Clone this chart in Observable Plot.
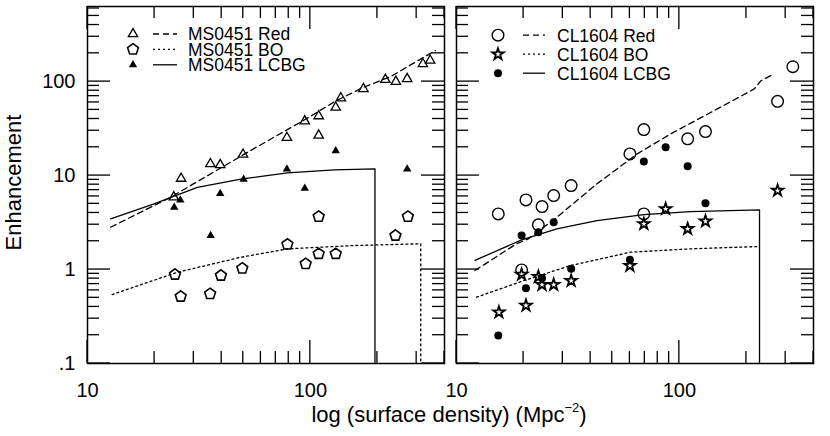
<!DOCTYPE html>
<html>
<head>
<meta charset="utf-8">
<script src="https://cdn.jsdelivr.net/npm/d3@7"></script>
<script src="https://cdn.jsdelivr.net/npm/@observablehq/plot@0.6"></script>
<style>
  body { margin: 0; background: #fff; }
  #chart { position: relative; width: 830px; height: 436px; background: #fff;
           font-family: "Liberation Sans", Arial, Helvetica, sans-serif; color: #000; }
  #chart svg { position: absolute; top: 0; overflow: visible; }
  #xtitle { position: absolute; top: 404px; left: 449px; transform: translateX(-50%);
            font-size: 22px; line-height: 22px; white-space: nowrap; }
  #xtitle sup { font-size: 13px; vertical-align: baseline; position: relative; top: -0.75em; }
</style>
</head>
<body>
<div id="chart"><div id="xtitle">log (surface density) (Mpc<sup>−2</sup>)</div></div>
<script>
// ---------- axis ticks ----------
const xTicksMajor = [10, 100];
const xTickLabels = ["10", "100"];
const xTicksMinor = [20, 30, 40, 50, 60, 70, 80, 90, 200, 300, 400];
const yTicksMajor = [0.1, 1, 10, 100];
const yTickLabels = [".1", "1", "10", "100"];
const yTicksMinor = [0.2, 0.3, 0.4, 0.5, 0.6, 0.7, 0.8, 0.9,
                     2, 3, 4, 5, 6, 7, 8, 9,
                     20, 30, 40, 50, 60, 70, 80, 90,
                     200, 300, 400, 500, 600];

// ---------- MS0451 (left panel) ----------
const msRedX = [24.4, 26.3, 35.6, 39.4, 49.9, 78.5, 94.4, 109, 109, 130, 137, 173, 217, 242, 272, 320, 345];
const msRedY = [5.9, 9.3, 13.3, 13.0, 16.8, 25.3, 38, 43, 26.8, 53.1, 66.8, 83.8, 105, 100, 107, 154, 168];
const msBoX = [24.7, 26.2, 35.5, 39.7, 49.5, 78.9, 95.3, 109, 130, 109, 241, 274];
const msBoY = [0.885, 0.516, 0.551, 0.864, 1.03, 1.85, 1.15, 1.47, 1.47, 3.66, 2.30, 3.66];
const msLcbgX = [24.5, 26.1, 35.7, 39.4, 50.2, 78.5, 94.4, 130, 272];
const msLcbgY = [4.6, 5.5, 2.3, 6.45, 9.1, 11.7, 7.3, 18.3, 11.7];

const msRedLineX = [12.7, 23.6, 53.8, 93, 131, 173, 229, 300, 364];
const msRedLineY = [2.82, 5.88, 18.4, 38.5, 62.8, 86.9, 113, 164, 214];
const msBoLineX = [12.9, 25.3, 48.7, 78.9, 157, 313, 313];
const msBoLineY = [0.542, 0.935, 1.35, 1.66, 1.80, 1.88, 0.1];
const msLcbgLineX = [12.7, 19.9, 31.1, 49.5, 78.9, 128, 195, 195];
const msLcbgLineY = [3.46, 5.0, 7.5, 9.22, 10.7, 11.5, 11.8, 0.1];

// ---------- CL1604 (right panel) ----------
const clRedX = [15.4, 20.5, 24.2, 27.3, 32.7, 23.3, 60, 69.3, 69.3, 109, 131, 276, 323, 19.6];
const clRedY = [3.91, 5.51, 4.68, 6.13, 7.83, 2.99, 17.0, 30.9, 3.91, 24.6, 29.4, 61.7, 144, 0.99];
const clBoX = [86.8, 69.3, 109, 131, 276, 15.5, 20.5, 19.6, 23.3, 24.2, 27.3, 32.7, 60];
const clBoY = [4.42, 3.06, 2.71, 3.27, 6.92, 0.351, 0.414, 0.885, 0.84, 0.69, 0.69, 0.76, 1.10];
const clLcbgX = [19.6, 23.3, 27.3, 69.3, 86.8, 109, 131, 20.5, 15.4, 32.7, 24.2, 60];
const clLcbgY = [2.30, 2.49, 3.19, 14.1, 20.0, 12.6, 5.07, 0.633, 0.199, 1.02, 0.81, 1.27];

const clRedLineX = [12.1, 18.6, 21, 28.2, 42.7, 64.7, 91.5, 148, 217, 232, 267];
const clRedLineY = [0.976, 1.88, 2.12, 3.6, 8.17, 17.0, 27.8, 51.2, 83.6, 102, 121];
const clBoLineX = [12.3, 20, 32.4, 60.4, 112, 229];
const clBoLineY = [0.508, 0.76, 1.10, 1.53, 1.66, 1.76];
const clLcbgLineX = [12.1, 19.6, 28.2, 42.7, 69.3, 112, 229, 229];
const clLcbgLineY = [1.25, 2.07, 2.71, 3.32, 3.85, 4.14, 4.32, 0.1];

// ---------- helpers ----------
const FONT = '"Liberation Sans", Arial, Helvetica, sans-serif';
const PANEL = 357;   // inner size (px) of each square panel
const MT = 6;        // top margin of each panel
const X_DOMAIN = [10, 400], Y_DOMAIN = [0.1, 630];
const pts = (xs, ys) => xs.map((x, i) => ({x, y: ys[i]}));
const pentagon = {
  draw(ctx, size) {
    const R = Math.sqrt(size / 2.3776);
    for (let i = 0; i < 5; i++) {
      const a = -Math.PI / 2 + i * 2 * Math.PI / 5;
      const px = R * Math.cos(a), py = R * Math.sin(a);
      if (i) ctx.lineTo(px, py); else ctx.moveTo(px, py);
    }
    ctx.closePath();
  }
};

const ST = {
  tri:   {symbol: "triangle", r: 3.5, fill: "none", stroke: "black", strokeWidth: 1.3},
  pent:  {symbol: pentagon, r: 4.95, fill: "none", stroke: "black", strokeWidth: 1.6},
  ftri:  {symbol: "triangle", r: 3.1, fill: "black", stroke: "none", strokeWidth: 0},
  circ:  {symbol: "circle", r: 5.8, fill: "none", stroke: "black", strokeWidth: 1.4},
  star:  {symbol: "star", r: 3.6, fill: "none", stroke: "black", strokeWidth: 1.8},
  fcirc: {symbol: "circle", r: 4, fill: "black", stroke: "none", strokeWidth: 0}
};
const LINE = {
  dash: {strokeDasharray: "6,4"},
  dot:  {strokeDasharray: "2,3"},
  solid:{strokeDasharray: null}
};
const symType = s => s === "triangle" ? d3.symbolTriangle : s === "circle" ? d3.symbolCircle : s === "star" ? d3.symbolStar : s;

function labelMarks(showYLabels) {
  const m = [
    Plot.axisX(xTicksMajor, {anchor: "bottom", tickSize: 0, tickPadding: 19, label: null,
      fontSize: 20, tickFormat: d => xTickLabels[xTicksMajor.indexOf(d)]})
  ];
  if (showYLabels) m.push(Plot.axisY(yTicksMajor, {anchor: "left", tickSize: 0, tickPadding: 12, label: null,
      fontSize: 20, tickFormat: d => yTickLabels[yTicksMajor.indexOf(d)]}));
  m.push(Plot.frame({stroke: "black", strokeWidth: 1.5}));
  return m;
}

function seriesMarks(series) {
  const out = [];
  for (const s of series) {
    out.push(Plot.line(pts(s.lx, s.ly), {x: "x", y: "y", stroke: "black", strokeWidth: 1.3, ...LINE[s.line]}));
  }
  for (const s of series) {
    out.push(Plot.dot(pts(s.px, s.py), {x: "x", y: "y", ...ST[s.sym]}));
  }
  return out;
}

// inward ticks drawn as thin filled bars, positioned through the plot's own scales
function drawTicks(svg) {
  const sx = svg.scale("x"), sy = svg.scale("y");
  const x0 = sx.range[0], x1 = sx.range[1], y1 = sy.range[0], y0 = sy.range[1];
  const W = 1.3;
  const g = d3.select(svg).append("g").attr("fill", "black");
  const bar = (x, y, w, h) => g.append("rect").attr("x", x).attr("y", y).attr("width", w).attr("height", h).attr("fill", "black");
  [[xTicksMinor, 12], [xTicksMajor, 23]].forEach(([ticks, L]) => ticks.forEach(t => {
    const px = sx.apply(t);
    bar(px - W / 2, y1 - L, W, L);
    bar(px - W / 2, y0, W, L);
  }));
  [[yTicksMinor, 12], [yTicksMajor, 23]].forEach(([ticks, L]) => ticks.forEach(t => {
    const py = sy.apply(t);
    bar(x0, py - W / 2, L, W);
    bar(x1 - L, py - W / 2, L, W);
  }));
}

function panel({ml, mr, left, series, showYLabels}) {
  const svg = Plot.plot({
    width: ml + PANEL + mr, height: 436, marginTop: MT, marginBottom: 436 - MT - PANEL,
    marginLeft: ml, marginRight: mr,
    x: {type: "log", domain: X_DOMAIN},
    y: {type: "log", domain: Y_DOMAIN, ...(showYLabels ? {} : {axis: null})},
    style: {background: "transparent", color: "black", fontFamily: FONT, fontSize: "20px", overflow: "visible"},
    marks: [...seriesMarks(series), ...labelMarks(showYLabels)]
  });
  svg.style.left = left + "px";
  return svg;
}

function legend(svg, series, {sx, lx1, lx2, tx, y0, dy}) {
  const g = d3.select(svg).append("g").attr("text-anchor", "start");
  series.forEach((s, i) => {
    const y = y0 + i * dy, st = ST[s.sym];
    g.append("path")
      .attr("transform", `translate(${sx},${y})`)
      .attr("d", d3.symbol(symType(st.symbol), Math.PI * st.r * st.r)())
      .attr("fill", st.fill).attr("stroke", st.stroke).attr("stroke-width", st.strokeWidth);
    g.append("line").attr("x1", lx1).attr("x2", lx2).attr("y1", y).attr("y2", y)
      .attr("stroke", "black").attr("stroke-width", 1.3)
      .attr("stroke-dasharray", LINE[s.line].strokeDasharray);
    g.append("text").attr("x", tx).attr("y", y).attr("dy", "0.36em")
      .attr("text-anchor", "start")
      .attr("font-family", FONT).attr("font-size", 17.5).attr("fill", "black").text(s.name);
  });
}

const msSeries = [
  {name: "MS0451 Red",  sym: "tri",  line: "dash",  px: msRedX,  py: msRedY,  lx: msRedLineX,  ly: msRedLineY},
  {name: "MS0451 BO",   sym: "pent", line: "dot",   px: msBoX,   py: msBoY,   lx: msBoLineX,   ly: msBoLineY},
  {name: "MS0451 LCBG", sym: "ftri", line: "solid", px: msLcbgX, py: msLcbgY, lx: msLcbgLineX, ly: msLcbgLineY}
];
const clSeries = [
  {name: "CL1604 Red",  sym: "circ",  line: "dash",  px: clRedX,  py: clRedY,  lx: clRedLineX,  ly: clRedLineY},
  {name: "CL1604 BO",   sym: "star",  line: "dot",   px: clBoX,   py: clBoY,   lx: clBoLineX,   ly: clBoLineY},
  {name: "CL1604 LCBG", sym: "fcirc", line: "solid", px: clLcbgX, py: clLcbgY, lx: clLcbgLineX, ly: clLcbgLineY}
];

const chart = document.getElementById("chart");
const leftSvg = panel({ml: 87, mr: 6, left: 0, series: msSeries, showYLabels: true});
const rightSvg = panel({ml: 6, mr: 17, left: 450, series: clSeries, showYLabels: false});
chart.appendChild(leftSvg);
chart.appendChild(rightSvg);

legend(leftSvg, msSeries, {sx: 133, lx1: 153, lx2: 177, tx: 188, y0: 34, dy: 15.4});
legend(rightSvg, clSeries, {sx: 48, lx1: 73, lx2: 95, tx: 107, y0: 35.2, dy: 19});

d3.select(leftSvg).append("text")
  .attr("transform", "translate(20.5,182.5) rotate(-90)")
  .attr("text-anchor", "middle")
  .attr("font-family", FONT).attr("font-size", 22).attr("fill", "black")
  .text("Enhancement");

try { drawTicks(leftSvg); drawTicks(rightSvg); } catch (e) { /* keep the chart even if ticks fail */ }
</script>
</body>
</html>
